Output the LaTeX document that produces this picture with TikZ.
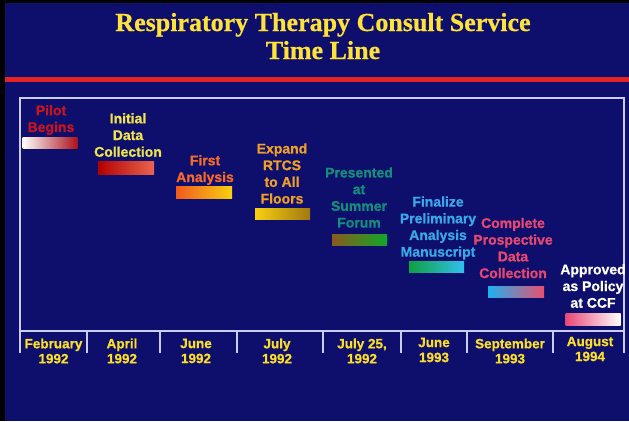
\documentclass[tikz,border=0pt]{standalone}
\usepackage{fontspec}
\setmainfont{Liberation Serif}[BoldFeatures={FakeBold=0.6}]
\setsansfont{Liberation Sans}[BoldFeatures={FakeBold=0.8}]
\definecolor{navy}{RGB}{14,14,108}
\definecolor{titleyellow}{RGB}{255,226,56}
\definecolor{dateyellow}{RGB}{250,222,40}
\definecolor{rline}{RGB}{226,36,36}
\definecolor{frame}{RGB}{204,204,240}
\definecolor{pilotred}{RGB}{200,20,30}
\definecolor{inityellow}{RGB}{240,228,80}
\definecolor{firstorange}{RGB}{248,106,40}
\definecolor{expandorange}{RGB}{240,160,40}
\definecolor{presgreen}{RGB}{16,144,122}
\definecolor{finblue}{RGB}{56,168,232}
\definecolor{comppink}{RGB}{232,72,112}
\tikzset{
  titletxt/.style={text=titleyellow, font=\fontsize{26}{30}\selectfont\bfseries, inner sep=0pt},
  evtxt/.style={align=center, inner sep=0pt, font=\fontsize{14}{16.7}\selectfont\sffamily\bfseries},
  datetxt/.style={align=center, inner sep=0pt, text=dateyellow, font=\fontsize{13.5}{15}\selectfont\sffamily\bfseries},
  barbox/.style={minimum height=11pt, minimum width=55pt, inner sep=0pt, draw=none},
  frameline/.style={draw=frame, line width=1.8pt}
}
\begin{document}
\begin{tikzpicture}[x=1pt,y=-1pt]
\useasboundingbox (0,0) rectangle (629,421);
\fill[black] (0,0) rectangle (629,421);
\fill[navy] (5,3) rectangle (629,421);
% title
\node[titletxt, anchor=base] (t1) at (323,31) {Respiratory Therapy Consult Service};
\node[titletxt, anchor=base] (t2) at (323,59) {Time Line};
\fill[rline] (5,77) rectangle (629,82);
% frame
\draw[frameline] (20,353) -- (20,98) -- (624,98) -- (624,353);
\draw[frameline] (20,331) -- (624,331);
\foreach \x in {87,160,237,323,401,467,553}
  \draw[frameline] (\x,331) -- (\x,353);
% events
\node[evtxt, text=pilotred] (e1) at (51,120) {Pilot\\Begins};
\node[barbox, left color=white, right color=pilotred!85!black] (b1) at (50,142.5) {};
\node[evtxt, text=inityellow] (e2) at (128,135) {Initial\\Data\\Collection};
\node[barbox, minimum width=56pt, minimum height=13pt, left color=red!70!black, right color={rgb,255:red,232;green,100;blue,80}] (b2) at (126,167.5) {};
\node[evtxt, text=firstorange] (e3) at (205,170) {First\\Analysis};
\node[barbox, minimum width=56pt, minimum height=12pt, left color={rgb,255:red,240;green,90;blue,32}, right color={rgb,255:red,248;green,208;blue,16}] (b3) at (204,192) {};
\node[evtxt, text=expandorange] (e4) at (282,173.5) {Expand\\RTCS\\to All\\Floors};
\node[barbox, left color={rgb,255:red,248;green,208;blue,16}, right color={rgb,255:red,160;green,120;blue,16}] (b4) at (282.5,213.5) {};
\node[evtxt, text=presgreen] (e5) at (359,197.5) {Presented\\at\\Summer\\Forum};
\node[barbox, left color={rgb,255:red,138;green,90;blue,32}, right color={rgb,255:red,16;green,168;blue,40}] (b5) at (359.5,239.5) {};
\node[evtxt, text=finblue] (e6) at (438,228) {Finalize\\Preliminary\\Analysis\\Manuscript};
\node[barbox, left color={rgb,255:red,16;green,160;blue,64}, right color={rgb,255:red,48;green,192;blue,240}] (b6) at (436.5,266.5) {};
\node[evtxt, text=comppink] (e7) at (513,248) {Complete\\Prospective\\Data\\Collection};
\node[barbox, minimum width=56pt, left color={rgb,255:red,32;green,176;blue,240}, right color={rgb,255:red,232;green,80;blue,112}] (b7) at (516,291.5) {};
\node[evtxt, text=white] (e8) at (593,286) {Approved\\as Policy\\at CCF};
\node[barbox, minimum width=55pt, minimum height=12pt, left color={rgb,255:red,232;green,72;blue,120}, right color=white] (b8) at (593,319) {};
% dates
\node[datetxt] (d1) at (53.5,351) {February\\1992};
\node[datetxt] (d2) at (122,351) {April\\1992};
\node[datetxt] (d3) at (196,351) {June\\1992};
\node[datetxt] (d4) at (277,351) {July\\1992};
\node[datetxt] (d5) at (362,351) {July 25,\\1992};
\node[datetxt] (d6) at (434,350) {June\\1993};
\node[datetxt] (d7) at (510,351) {September\\1993};
\node[datetxt] (d8) at (590,349) {August\\1994};
\end{tikzpicture}
\end{document}
